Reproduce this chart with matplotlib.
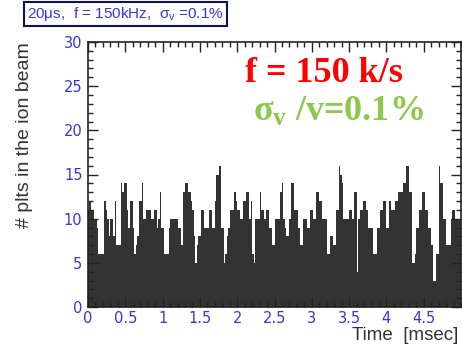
import numpy as np
import matplotlib.pyplot as plt
from matplotlib.ticker import MultipleLocator

# plates per 20 us bin, 0 - 5 ms
counts = [11, 12, 11, 11, 10, 10, 9, 6, 6, 6,
          6, 12, 11, 10, 8, 10, 10, 8, 12, 7,
          7, 7, 14, 13, 14, 14, 11, 9, 12, 12,
          9, 6, 7, 8, 12, 12, 14, 10, 10, 11,
          11, 11, 10, 10, 11, 11, 9, 10, 13, 9,
          9, 6, 6, 6, 9, 10, 10, 10, 10, 10,
          9, 9, 7, 7, 13, 14, 14, 13, 13, 12,
          11, 8, 5, 7, 8, 8, 11, 11, 9, 9,
          9, 11, 11, 9, 9, 12, 15, 15, 16, 9,
          9, 5, 6, 8, 9, 11, 11, 11, 13, 12,
          11, 11, 10, 10, 12, 12, 13, 13, 10, 12,
          6, 5, 10, 10, 10, 13, 11, 11, 10, 11,
          11, 9, 9, 7, 7, 10, 10, 10, 10, 13,
          14, 10, 9, 8, 8, 10, 14, 14, 11, 11,
          11, 9, 7, 7, 10, 10, 10, 9, 9, 11,
          11, 10, 10, 13, 13, 12, 12, 10, 10, 10,
          6, 6, 8, 8, 7, 7, 11, 11, 16, 15,
          14, 10, 10, 10, 10, 11, 11, 10, 13, 13,
          4, 10, 11, 11, 12, 12, 11, 11, 9, 9,
          9, 6, 6, 6, 9, 9, 11, 11, 12, 12,
          9, 9, 12, 11, 11, 11, 12, 12, 13, 13,
          13, 14, 14, 16, 16, 13, 13, 5, 5, 6,
          9, 9, 11, 11, 13, 13, 11, 11, 9, 9,
          7, 3, 3, 6, 6, 16, 14, 14, 10, 10,
          7, 7, 7, 10, 11, 11, 10, 10, 10, 10]
bin_width = 0.02  # msec
xticks = [0, 0.5, 1, 1.5, 2, 2.5, 3, 3.5, 4, 4.5]
xticklabels = ['0', '0.5', '1', '1.5', '2', '2.5', '3', '3.5', '4', '4.5']
yticks = [0, 5, 10, 15, 20, 25, 30]

plt.rcParams['mathtext.fontset'] = 'custom'
plt.rcParams['mathtext.rm'] = 'Liberation Serif:bold'
plt.rcParams['mathtext.it'] = 'Liberation Serif:bold'
plt.rcParams['mathtext.bf'] = 'Liberation Serif:bold'
plt.rcParams['mathtext.sf'] = 'Liberation Sans'

blue = '#3535e0'

fig = plt.figure(figsize=(4.62, 3.48), dpi=100)
ax = fig.add_axes([88 / 462, 1 - 307 / 348, 373 / 462, 265 / 348])

edges = np.arange(len(counts)) * bin_width
ax.bar(edges, counts, width=bin_width, align='edge', color='#333333',
       edgecolor='none', linewidth=0)

ax.set_xlim(0, 5)
ax.set_ylim(0, 30)
ax.set_xticks(xticks)
ax.set_xticklabels(xticklabels)
ax.set_yticks(yticks)
ax.xaxis.set_minor_locator(MultipleLocator(0.1))
ax.yaxis.set_minor_locator(MultipleLocator(1))
ax.tick_params(which='both', direction='in', top=True, right=True,
               labelsize=10.5, labelcolor=blue, width=1, color='#222222')
ax.tick_params(which='major', length=7)
ax.tick_params(which='minor', length=3.5)
ax.tick_params(axis='x', pad=3)
ax.tick_params(axis='y', pad=4)
for sp in ax.spines.values():
    sp.set_linewidth(1.2)
    sp.set_color('#222222')

fig.text(25 / 462, 1 - 42 / 348, '# plts in the ion beam', rotation=90,
         ha='center', va='top', fontsize=14, color='#333333',
         family='Liberation Sans')
fig.text(458 / 462, 1 - 336 / 348, 'Time  [msec]', ha='right', va='center',
         fontsize=13.5, color='#333333', family='Liberation Sans')

fig.text(27 / 462, 1 - 14 / 348, '20\u03bcs,  f = 150kHz,  \u03c3$_\\mathsf{v}$ =0.1%',
         ha='left', va='center', fontsize=11, color=blue,
         family='Liberation Sans',
         bbox=dict(boxstyle='square,pad=0.2', facecolor='white',
                   edgecolor='#101060', linewidth=1.5))

fig.text(245 / 462, 1 - 82 / 348, 'f = 150 k/s', ha='left', va='baseline',
         fontsize=26, color='#ff0000', family='Liberation Serif',
         weight='bold')
fig.text(253 / 462, 1 - 121 / 348, r'$\sigma_\mathregular{v}$ /v=0.1%',
         ha='left', va='baseline', fontsize=26, color='#8cc84b',
         family='Liberation Serif', weight='bold')

fig.savefig('out.png', dpi=100)
